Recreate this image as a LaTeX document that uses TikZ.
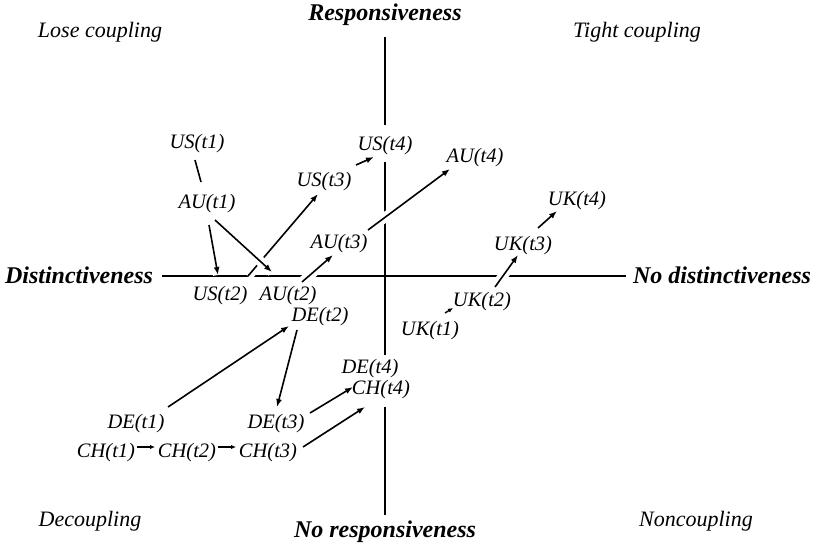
\documentclass[tikz,border=0pt]{standalone}
\usepackage{fontspec}
\setmainfont{Liberation Serif}
\usetikzlibrary{arrows.meta,calc}
\pgfdeclarelayer{background}
\pgfsetlayers{background,main}
\begin{document}
\begin{tikzpicture}[x=1pt,y=-1pt,
  lbl/.style={font=\fontsize{20.5}{24}\selectfont\itshape, inner sep=1pt, anchor=base},
  quadlbl/.style={font=\fontsize{22}{26}\selectfont\itshape, inner sep=1pt, anchor=base},
  axlbl/.style={font=\fontsize{24}{28}\selectfont\bfseries\itshape, inner sep=1pt, anchor=base},
  axisline/.style={line width=1.8pt},
  conn/.style={line width=1.6pt, preaction={draw=white,line width=10pt,-}},
  arr/.style={conn, -{Latex[length=8pt,width=6pt]}},
  sarr/.style={line width=1.4pt, -{Latex[length=5pt,width=4.5pt]}},
]
\useasboundingbox (0,0) rectangle (818,548);
% axis and quadrant labels
\node[axlbl] (resp) at (385,21) {Responsiveness};
\node[axlbl] (noresp) at (385,537) {No responsiveness};
\node[axlbl] (dist) at (79,283) {Distinctiveness};
\node[axlbl] (nodist) at (722,283) {No distinctiveness};
\node[quadlbl] (lose) at (100,38) {Lose coupling};
\node[quadlbl] (tight) at (637,38) {Tight coupling};
\node[quadlbl] (decoup) at (90,526) {Decoupling};
\node[quadlbl] (noncoup) at (696,526) {Noncoupling};
% data nodes
\node[lbl] (US1) at (197,149) {US(t1)};
\node[lbl] (AU1) at (207,208) {AU(t1)};
\node[lbl] (US2) at (220,300) {US(t2)};
\node[lbl] (AU2) at (288,300) {AU(t2)};
\node[lbl] (US3) at (324,186) {US(t3)};
\node[lbl] (US4) at (385,150) {US(t4)};
\node[lbl] (AU3) at (339,248) {AU(t3)};
\node[lbl] (AU4) at (475,163) {AU(t4)};
\node[lbl] (UK4) at (577,205) {UK(t4)};
\node[lbl] (UK3) at (523,250) {UK(t3)};
\node[lbl] (UK2) at (482,306) {UK(t2)};
\node[lbl] (UK1) at (430,335) {UK(t1)};
\node[lbl] (DE2) at (320,321) {DE(t2)};
\node[lbl] (DE1) at (136,428) {DE(t1)};
\node[lbl] (DE3) at (276,428) {DE(t3)};
\node[lbl] (CH1) at (106,457) {CH(t1)};
\node[lbl] (CH2) at (187,457) {CH(t2)};
\node[lbl] (CH3) at (268,457) {CH(t3)};
\node[lbl] (DE4) at (370,373) {DE(t4)};
\node[lbl] (CH4) at (381,394) {CH(t4)};
\begin{pgfonlayer}{background}
% axes
\draw[axisline] ($(resp.south)+(0,10)$) -- ($(noresp.north)+(0,-4)$);
\draw[axisline] ($(dist.base east)+(8,-7)$) -- ($(nodist.base west)+(-6,-7)$);
% gaps in the vertical axis
\fill[white] ($(US4.base)+(-8,-25)$) rectangle ($(US4.base)+(8,12)$);
\fill[white] ($(DE4.base)+(10,-18)$) rectangle ($(CH4.base)+(10,13)$);
% connectors
\draw[conn] ($(US1.base)+(-2,11)$) -- ($(AU1.base)+(-6,-26)$);
\draw[arr] ($(AU1.base)+(2,17)$) -- ($(US2.base)+(-2,-25)$);
\draw[arr] ($(US2.base)+(28,-24)$) -- ($(US3.base)+(-6,8)$);
\draw[arr] ($(AU1.base)+(8,12)$) -- ($(AU2.base)+(-16,-28)$);
\draw[arr] ($(US3.base)+(32,-21)$) -- ($(US4.base)+(-11,7)$);
\draw[arr] ($(AU2.base)+(14,-18)$) -- ($(AU3.base)+(-6,7)$);
\draw[arr] ($(AU3.base)+(29,-18)$) -- ($(AU4.base)+(-25,6)$);
\draw[sarr] ($(UK1.base)+(15,-22)$) -- ($(UK2.base)+(-29,2)$);
\draw[arr] ($(UK2.base)+(13,-19)$) -- ($(UK3.base)+(-5,5)$);
\draw[arr] ($(UK3.base)+(15,-22)$) -- ($(UK4.base)+(-20,6)$);
\draw[arr] ($(DE2.base)+(-23,9)$) -- ($(DE3.base)+(1,-21)$);
\draw[arr] ($(DE1.base)+(32,-21)$) -- ($(DE2.base)+(-31,5)$);
\draw[arr] ($(DE3.base)+(34,-15)$) -- ($(CH4.base)+(-28,-7)$);
\draw[arr] ($(CH3.base)+(35,-10)$) -- ($(CH4.base)+(-16,13)$);
\draw[sarr] ($(CH1.base)+(31,-10)$) -- ($(CH2.base)+(-32,-10)$);
\draw[sarr] ($(CH2.base)+(31,-10)$) -- ($(CH3.base)+(-32,-10)$);
\end{pgfonlayer}
\end{tikzpicture}
\end{document}
